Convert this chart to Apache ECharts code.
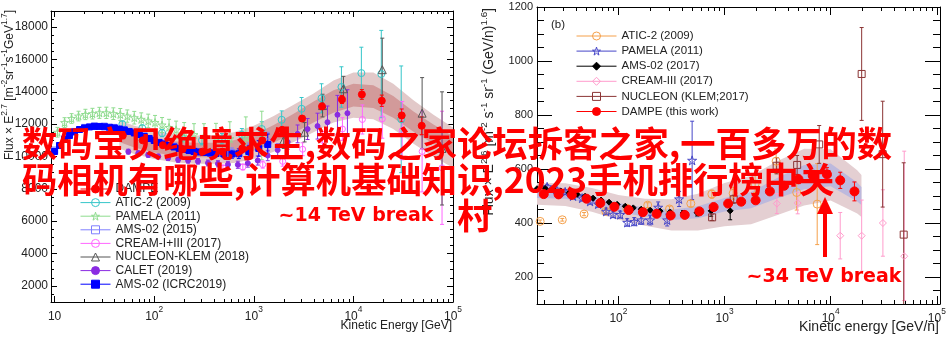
<!DOCTYPE html>
<html>
<head>
<meta charset="utf-8">
<title>DAMPE proton / helium spectra</title>
<script src="https://cdn.jsdelivr.net/npm/echarts@6.0.0/dist/echarts.min.js"></script>
<style>
  html, body { margin: 0; padding: 0; background: #fff; }
  #chart { width: 951px; height: 352px; }
</style>
</head>
<body>
<div id="chart"></div>
<script>
// ---------- (a) proton, flux x E^2.7, energy in GeV ----------
const pDampeE = [48.4, 76.7, 122, 193, 305, 484, 767, 1216, 1928, 3055, 4842, 7674, 12162, 19275, 30549, 48529];
const pDampeF = [11300, 11000, 10700, 10450, 10300, 10300, 10500, 11000, 11650, 12350, 13100, 13530, 13840, 13450, 12540, 11900];
const pDampeErr = [60, 60, 60, 70, 80, 90, 100, 120, 140, 160, 200, 250, 300, 350, 400, 550];

const pBandE = [44.7, 63.1, 100, 158, 251, 398, 631, 1000, 1585, 2512, 3981, 6310, 10000, 15849, 25119, 39811, 63096, 100000];
const pBandOuterHi = [12250, 11900, 11600, 11400, 11300, 11300, 11500, 11900, 12500, 13200, 13900, 14700, 15200, 15200, 14500, 13500, 12600, 11800];
const pBandInnerHi = [11800, 11450, 11150, 10950, 10850, 10850, 11000, 11350, 11950, 12650, 13400, 14100, 14500, 14400, 13750, 12800, 12000, 11250];
const pBandInnerLo = [10900, 10550, 10250, 10050, 9950, 9950, 10050, 10350, 10850, 11450, 12100, 12700, 13100, 13000, 12400, 11550, 10800, 10050];
const pBandOuterLo = [10500, 10150, 9850, 9650, 9550, 9550, 9600, 9850, 10300, 10900, 11500, 12100, 12400, 12300, 11700, 10800, 10000, 9300];

const pAticE = [47.9, 75.9, 120, 191, 302, 479, 759, 1202, 1905, 3020, 4786, 7586, 12023, 19055, 30200];
const pAticF = [12000, 11750, 11450, 11150, 11000, 11100, 11350, 11700, 12270, 12950, 13600, 14300, 15160, 15100, 12300];
const pAticErr = [200, 200, 220, 250, 280, 320, 380, 450, 550, 700, 900, 1250, 1600, 2700, 3300];

const pPamelaE = [10.7, 12.6, 14.8, 17.4, 20.4, 24.0, 28.2, 33.1, 38.9, 45.7, 53.7, 63.1, 74.1, 87.1, 102, 120, 141, 166, 200, 251, 316, 417, 575, 832, 1202];
const pPamelaF = [11500, 12100, 12350, 12500, 12600, 12650, 12700, 12700, 12650, 12600, 12500, 12400, 12300, 12200, 12100, 11950, 11800, 11650, 11500, 11350, 11250, 11150, 11100, 11200, 11300];
const pPamelaErr = [300, 300, 300, 300, 320, 330, 340, 350, 360, 370, 380, 390, 400, 420, 440, 460, 500, 540, 600, 680, 780, 900, 1050, 1250, 1500];

const pAms15E = [10, 12.6, 15.8, 20, 25.1, 31.6, 39.8, 50.1, 63.1, 79.4, 100, 126, 158, 200, 251, 316, 417, 603, 891, 1380];
const pAms15F = [10400, 11100, 11550, 11800, 11900, 11880, 11800, 11680, 11500, 11280, 11030, 10820, 10640, 10480, 10350, 10300, 10250, 10250, 10450, 10900];
const pAms15Err = [120, 120, 120, 120, 120, 120, 120, 120, 120, 120, 130, 140, 150, 160, 180, 200, 230, 280, 380, 600];

const pCreamE = [490, 776, 1230, 1950, 3090, 4898, 7762, 12303, 19498, 30903, 48978, 77625];
const pCreamF = [9300, 9350, 9500, 9700, 10450, 11000, 11700, 12290, 12330, 11600, 10310, 9300];
const pCreamErr = [150, 180, 220, 300, 400, 550, 700, 900, 1200, 1800, 2500, 3500];

const pNucleonE = [1995, 3236, 4898, 7943, 19498, 48978, 77625];
const pNucleonF = [11000, 11500, 13150, 14190, 15370, 12680, 10500];
const pNucleonErr = [500, 600, 700, 770, 1950, 2200, 3500];

const pCaletE = [55.0, 69.2, 87.1, 110, 138, 174, 219, 275, 347, 437, 550, 692, 871, 1096, 1380, 1738, 2188, 2754, 3467, 4365, 5495, 6918, 8710];
const pCaletF = [10300, 10200, 10100, 10000, 9900, 9800, 9750, 9700, 9600, 9550, 9500, 9490, 9590, 9750, 10060, 10400, 10900, 11400, 11700, 11880, 12120, 12580, 12680];
const pCaletErr = [150, 150, 150, 150, 150, 160, 160, 170, 180, 190, 200, 220, 250, 280, 320, 380, 450, 550, 650, 800, 1000, 1200, 1450];

const pAms19E = [10, 11.2, 12.6, 14.1, 15.8, 17.8, 20.0, 22.4, 25.1, 28.2, 31.6, 35.5, 39.8, 44.7, 50.1, 56.2, 63.1, 70.8, 79.4, 89.1, 100, 112, 126, 141, 158, 178, 200, 224, 251, 282, 316, 363, 417, 501, 603, 708, 891, 1122, 1380];
const pAms19F = [10310, 10680, 11050, 11300, 11520, 11670, 11765, 11830, 11860, 11860, 11840, 11810, 11765, 11700, 11640, 11550, 11455, 11360, 11240, 11115, 10990, 10870, 10775, 10680, 10590, 10500, 10435, 10370, 10310, 10280, 10250, 10220, 10190, 10155, 10155, 10170, 10310, 10500, 10740];
const pAms19Err = [100, 100, 100, 100, 100, 100, 100, 100, 100, 100, 100, 100, 100, 100, 110, 110, 110, 110, 120, 120, 120, 120, 130, 130, 130, 140, 140, 150, 150, 160, 170, 180, 200, 230, 260, 300, 380, 480, 650];

// ---------- (b) helium, flux x E^2.6, energy in GeV/n ----------
const hDampeE = [19.8, 27.3, 36.4, 50.1, 67.6, 91.6, 125, 170, 229, 311, 422, 579, 789, 1081, 1435, 1963, 2673, 3648, 4977, 6776, 9226, 12303, 16749];
const hDampeF = [507, 506, 504, 490, 474, 460, 448, 440, 434, 428, 430, 443, 459, 472, 479, 484, 517, 538, 562, 575, 580, 558, 517];
const hDampeErr = [3, 3, 3, 3, 3, 3, 3, 3, 4, 4, 5, 5, 6, 7, 8, 9, 11, 13, 16, 20, 25, 30, 35];

const hBandE = [17.0, 31.6, 56.2, 100, 178, 316, 562, 1000, 1778, 3162, 5623, 10000, 17783, 19500];
const hBandOuterHi = [548, 547, 530, 504, 490, 488, 508, 548, 575, 630, 675, 673, 595, 578];
const hBandInnerHi = [523, 520, 501, 474, 457, 449, 462, 493, 515, 568, 615, 620, 550, 533];
const hBandInnerLo = [493, 490, 471, 442, 423, 411, 418, 443, 455, 492, 525, 536, 480, 467];
const hBandOuterLo = [468, 463, 442, 412, 390, 372, 372, 388, 395, 430, 465, 483, 435, 422];

const hAticE = [18.3, 29.6, 47.5, 76.0, 120, 189, 303, 481, 759, 1205, 1941, 3062, 4786, 7464];
const hAticF = [406, 412, 433, 443, 455, 466, 452, 472, 507, 510, 545, 629, 513, 470];
const hAticErr = [5, 5, 6, 7, 8, 9, 10, 12, 15, 22, 32, 45, 65, 150];

const hPamelaE = [21.3, 25.9, 31.5, 37.4, 45.5, 54.1, 64.4, 76.6, 89.1, 104, 121, 141, 164, 199, 237, 288, 373, 495];
const hPamelaF = [534, 525, 515, 500, 492, 480, 470, 443, 432, 431, 402, 405, 411, 411, 458, 411, 489, 632];
const hPamelaErr = [8, 8, 9, 9, 10, 10, 11, 12, 12, 13, 14, 15, 16, 18, 20, 22, 28, 145];

const hAmsE = [17.1, 20.4, 24.3, 28.8, 34.3, 40.8, 48.5, 57.7, 68.7, 81.7, 97.2, 116, 138, 164, 199, 247, 307, 407, 552, 748, 1130];
const hAmsF = [527, 528, 524, 518, 512, 506, 499, 492, 485, 477, 469, 462, 456, 451, 447, 444, 440, 437, 438, 445, 445];
const hAmsErr = [3, 3, 3, 3, 3, 3, 3, 3, 3, 3, 4, 4, 4, 5, 5, 6, 7, 9, 12, 20, 33];

const hCreamE = [3112, 4887, 12303, 19588, 31046, 49317];
const hCreamF = [472, 474, 353, 353, 400, 277];
const hCreamErr = [37, 40, 86, 132, 123, [164, 389]];

const hNucleonE = [764, 1219, 3097, 4831, 7798, 19588, 30903, 48753];
const hNucleonF = [421, 488, 612, 615, 691, 952, 655, 357];
const hNucleonErr = [12, 15, 30, 35, 70, 172, 196, [300, 266]];

// ---------- axes ----------
const xTickPowers = [1, 2, 3, 4, 5];
const pFluxTicks = [2000, 4000, 6000, 8000, 10000, 12000, 14000, 16000, 18000];
const hFluxTicks = [200, 400, 600, 800, 1000, 1200];

const FONT = 'Liberation Sans, Arial, sans-serif';
const lg = Math.log10;

function pts(es, fs) {
  return es.map((e, i) => [lg(e), fs[i]]);
}

function bars(es, fs, errs) {
  return es.map((e, i) => {
    const er = errs[i];
    const lo = Array.isArray(er) ? er[0] : er;
    const hi = Array.isArray(er) ? er[1] : er;
    return [lg(e), fs[i], fs[i] - lo, fs[i] + hi];
  });
}

const STAR = 'path://M50,0 L61.8,35.4 L100,35.4 L69.1,57.3 L80.9,92.7 L50,70.8 L19.1,92.7 L30.9,57.3 L0,35.4 L38.2,35.4 Z';

function markerSeries(name, g, es, fs, mk) {
  return {
    name, type: 'line', xAxisIndex: g * 4, yAxisIndex: g * 4,
    data: pts(es, fs),
    symbol: mk.symbol, symbolSize: mk.size, showSymbol: true,
    lineStyle: { color: mk.color, width: 1, opacity: 0 },
    itemStyle: {
      color: mk.filled ? mk.color : 'rgba(255,255,255,0)',
      borderColor: mk.color, borderWidth: 1
    },
    z: mk.z || 5, silent: true, animation: false
  };
}

function errorSeries(g, es, fs, errs, color) {
  return {
    type: 'custom', xAxisIndex: g * 4, yAxisIndex: g * 4,
    data: bars(es, fs, errs), clip: true, silent: true, z: 4,
    encode: { x: 0, y: [1, 2, 3] },
    renderItem: (params, api) => {
      const x = api.value(0);
      const a = api.coord([x, api.value(2)]);
      const b = api.coord([x, api.value(3)]);
      const cap = 2;
      return {
        type: 'group',
        children: [
          { type: 'line', shape: { x1: a[0], y1: a[1], x2: b[0], y2: b[1] }, style: { stroke: color, lineWidth: 1 } },
          { type: 'line', shape: { x1: a[0] - cap, y1: a[1], x2: a[0] + cap, y2: a[1] }, style: { stroke: color, lineWidth: 1 } },
          { type: 'line', shape: { x1: b[0] - cap, y1: b[1], x2: b[0] + cap, y2: b[1] }, style: { stroke: color, lineWidth: 1 } }
        ]
      };
    }
  };
}

function bandSeries(g, es, lo, hi, fill, z) {
  return {
    type: 'custom', xAxisIndex: g * 4, yAxisIndex: g * 4,
    data: es.map((e, i) => [lg(e), lo[i], hi[i]]),
    clip: true, silent: true, z,
    encode: { x: 0, y: [1, 2] },
    renderItem: (params, api) => {
      if (params.dataIndexInside !== 0) return null;
      const top = [], bot = [];
      for (let i = 0; i < params.dataInsideLength; i++) {
        top.push(api.coord([api.value(0, i), api.value(2, i)]));
        bot.push(api.coord([api.value(0, i), api.value(1, i)]));
      }
      return { type: 'polygon', shape: { points: top.concat(bot.reverse()) }, style: { fill } };
    }
  };
}

function dataset(name, g, es, fs, errs, mk) {
  return [errorSeries(g, es, fs, errs, mk.bar || mk.color), markerSeries(name, g, es, fs, mk)];
}

function logMinorTicks(min, max) {
  const out = [];
  for (let d = Math.floor(min); d < Math.ceil(max); d++) {
    for (let k = 2; k <= 9; k++) {
      const v = d + lg(k);
      if (v > min && v < max) out.push(v);
    }
  }
  return out;
}

function evenTicks(min, max, step, skip) {
  const out = [];
  for (let v = Math.ceil(min / step) * step; v <= max; v += step) {
    if (v % skip !== 0) out.push(v);
  }
  return out;
}

const tick = (vals, len) => ({ show: true, inside: true, length: len, customValues: vals, lineStyle: { color: '#000', width: 1 } });

function xAxesFor(g, min, max, s) {
  const major = xTickPowers.filter(v => v >= min && v <= max);
  const minor = logMinorTicks(min, max);
  const base = {
    type: 'value', gridIndex: g, min, max, splitLine: { show: false },
    axisLine: { show: true, onZero: false, lineStyle: { color: '#000', width: 1 } }
  };
  const off = { show: false };
  return [
    {
      ...base, position: 'bottom', axisTick: tick(major, s.major),
      axisLabel: {
        customValues: major, margin: s.margin, color: '#222', fontFamily: FONT,
        formatter: v => {
          const p = Math.round(v);
          return p === 1 ? '{b|10}' : '{b|10}{s|' + p + '}';
        },
        rich: {
          b: { fontSize: s.font, fontFamily: FONT, color: '#222', lineHeight: s.font + 5, verticalAlign: 'bottom' },
          s: { fontSize: s.font * 0.7, fontFamily: FONT, color: '#222', lineHeight: s.font + 5, verticalAlign: 'top' }
        }
      }
    },
    { ...base, position: 'bottom', axisLine: off, axisTick: tick(minor, s.minor), axisLabel: off },
    { ...base, position: 'top', axisTick: tick(major, s.major), axisLabel: off },
    { ...base, position: 'top', axisLine: off, axisTick: tick(minor, s.minor), axisLabel: off }
  ];
}

function yAxesFor(g, min, max, major, minor, s) {
  const base = {
    type: 'value', gridIndex: g, min, max, splitLine: { show: false },
    axisLine: { show: true, onZero: false, lineStyle: { color: '#000', width: 1 } }
  };
  const off = { show: false };
  return [
    {
      ...base, position: 'left', axisTick: tick(major, s.major),
      axisLabel: {
        customValues: major, margin: s.margin, fontSize: s.font, color: '#222', fontFamily: FONT,
        formatter: v => String(v)
      }
    },
    { ...base, position: 'left', axisLine: off, axisTick: tick(minor, s.minor), axisLabel: off },
    { ...base, position: 'right', axisTick: tick(major, s.major), axisLabel: off },
    { ...base, position: 'right', axisLine: off, axisTick: tick(minor, s.minor), axisLabel: off }
  ];
}

const P_XMIN = 0.964, P_XMAX = 5.0;
const H_XMIN = lg(17.1), H_XMAX = 5.03;

const series = [
  // proton panel
  bandSeries(0, pBandE, pBandOuterLo, pBandOuterHi, '#e2c9c9', 1),
  bandSeries(0, pBandE, pBandInnerLo, pBandInnerHi, '#d29a9a', 2),
  ...dataset('ATIC-2 (2009)', 0, pAticE, pAticF, pAticErr, { symbol: 'circle', size: 7, color: '#35c6c9' }),
  ...dataset('PAMELA (2011)', 0, pPamelaE, pPamelaF, pPamelaErr, { symbol: STAR, size: 8, color: '#8fdc8f' }),
  ...dataset('AMS-02 (2015)', 0, pAms15E, pAms15F, pAms15Err, { symbol: 'rect', size: 6, color: '#7f7fff' }),
  ...dataset('CREAM-I+III (2017)', 0, pCreamE, pCreamF, pCreamErr, { symbol: 'circle', size: 6, color: '#ff66ff' }),
  ...dataset('NUCLEON-KLEM (2018)', 0, pNucleonE, pNucleonF, pNucleonErr, { symbol: 'triangle', size: 8, color: '#555555' }),
  ...dataset('CALET (2019)', 0, pCaletE, pCaletF, pCaletErr, { symbol: 'circle', size: 5, color: '#8a2be2', filled: true }),
  ...dataset('AMS-02 (ICRC2019)', 0, pAms19E, pAms19F, pAms19Err, { symbol: 'rect', size: 6, color: '#0000ff', filled: true }),
  ...dataset('DAMPE', 0, pDampeE, pDampeF, pDampeErr, { symbol: 'circle', size: 7, color: '#ff0000', filled: true, z: 7 }),
  // helium panel
  bandSeries(1, hBandE, hBandOuterLo, hBandOuterHi, '#e4cfd2', 1),
  bandSeries(1, hBandE, hBandInnerLo, hBandInnerHi, '#bdb9dd', 2),
  ...dataset('ATIC-2 (2009) ', 1, hAticE, hAticF, hAticErr, { symbol: 'circle', size: 8, color: '#f5a04a' }),
  ...dataset('PAMELA (2011) ', 1, hPamelaE, hPamelaF, hPamelaErr, { symbol: STAR, size: 9, color: '#4646c8' }),
  ...dataset('AMS-02 (2017)', 1, hAmsE, hAmsF, hAmsErr, { symbol: 'diamond', size: 6, color: '#000000', filled: true }),
  ...dataset('CREAM-III (2017)', 1, hCreamE, hCreamF, hCreamErr, { symbol: 'diamond', size: 7, color: '#ff9ccc' }),
  ...dataset('NUCLEON (KLEM;2017)', 1, hNucleonE, hNucleonF, hNucleonErr, { symbol: 'rect', size: 7, color: '#8b3535' }),
  ...dataset('DAMPE (this work)', 1, hDampeE, hDampeF, hDampeErr, { symbol: 'circle', size: 9, color: '#ff0000', filled: true, z: 7 })
];

const legendBase = {
  orient: 'vertical', itemHeight: 10, selectedMode: false,
  lineStyle: { opacity: 1, width: 1 }, itemStyle: { borderWidth: 1 }
};

const sup = (size) => ({ fontSize: size * 0.7, fontFamily: FONT, fill: '#222', lineHeight: size + 6, verticalAlign: 'top' });

const TITLE_FONT = 'bold 35.3px "Noto Sans CJK SC"';

const chart = echarts.init(document.getElementById('chart'));
chart.setOption({
  animation: false,
  backgroundColor: '#fff',
  grid: [
    { left: 51, top: 11, width: 402, height: 291 },
    { left: 537, top: 7, width: 403, height: 297 }
  ],
  xAxis: [
    ...xAxesFor(0, P_XMIN, P_XMAX, { major: 6, minor: 3, margin: 4, font: 12 }),
    ...xAxesFor(1, H_XMIN, H_XMAX, { major: 8, minor: 4, margin: 4, font: 12 })
  ],
  yAxis: [
    ...yAxesFor(0, 1000, 19000, pFluxTicks, evenTicks(1000, 19000, 500, 2000), { major: 6, minor: 3, margin: 3, font: 12 }),
    ...yAxesFor(1, 100, 1200, hFluxTicks, evenTicks(100, 1200, 50, 200), { major: 15, minor: 7, margin: 4, font: 11 })
  ],
  legend: [
    {
      ...legendBase, left: 75, top: 178, itemWidth: 30, itemGap: 1.6,
      textStyle: { fontSize: 12, color: '#222', fontFamily: FONT },
      data: ['DAMPE', 'ATIC-2 (2009)', 'PAMELA (2011)', 'AMS-02 (2015)', 'CREAM-I+III (2017)', 'NUCLEON-KLEM (2018)', 'CALET (2019)', 'AMS-02 (ICRC2019)']
    },
    {
      ...legendBase, left: 571, top: 25, itemWidth: 40, itemGap: 3.1,
      textStyle: { fontSize: 11.5, color: '#222', fontFamily: FONT },
      data: ['ATIC-2 (2009) ', 'PAMELA (2011) ', 'AMS-02 (2017)', 'CREAM-III (2017)', 'NUCLEON (KLEM;2017)', 'DAMPE (this work)']
    }
  ],
  series,
  graphic: [
    // axis titles
    {
      type: 'text', x: 10, y: 10, rotation: Math.PI / 2, z: 50,
      style: {
        text: 'Flux × E{s|2.7} [m{s|-2}sr{s|-1}s{s|-1}GeV{s|1.7}]',
        font: '12px ' + FONT, fill: '#222', align: 'right', verticalAlign: 'middle',
        rich: { s: sup(12) }
      }
    },
    {
      type: 'text', x: 489, y: 8, rotation: Math.PI / 2, z: 50,
      style: {
        text: 'Flux × E{s|2.6} [m{s|-2} s{s|-1} sr{s|-1} (GeV/n){s|1.6}]',
        font: '14px ' + FONT, fill: '#222', align: 'right', verticalAlign: 'middle',
        rich: { s: sup(14) }
      }
    },
    { type: 'text', x: 452, y: 326, z: 50, style: { text: 'Kinetic Energy [GeV]', font: '12px ' + FONT, fill: '#222', align: 'right', verticalAlign: 'middle' } },
    { type: 'text', x: 939, y: 327, z: 50, style: { text: 'Kinetic energy [GeV/n]', font: '14px ' + FONT, fill: '#222', align: 'right', verticalAlign: 'middle' } },
    { type: 'text', x: 551, y: 25, z: 50, style: { text: '(b)', font: '11.5px ' + FONT, fill: '#222', align: 'left', verticalAlign: 'middle' } },
    // annotations
    { type: 'text', x: 356, y: 216, z: 60, style: { text: '~14 TeV break', font: 'bold 19px DejaVu Sans', fill: '#ff0000', align: 'center', verticalAlign: 'middle' } },
    { type: 'text', x: 824, y: 277, z: 60, style: { text: '~34 TeV break', font: 'bold 19px DejaVu Sans', fill: '#ff0000', align: 'center', verticalAlign: 'middle' } },
    { type: 'line', z: 60, shape: { x1: 825, y1: 257, x2: 825, y2: 210 }, style: { stroke: '#ff0000', lineWidth: 4 } },
    { type: 'polygon', z: 60, shape: { points: [[825, 197], [817, 214], [833, 214]] }, style: { fill: '#ff0000' } },
    // overlay title
    { type: 'text', x: 22, y: 144, z: 100, style: { text: '数码宝贝绝境求生,数码之家论坛拆客之家,一百多万的数', font: TITLE_FONT, fill: '#ff0000', align: 'left', verticalAlign: 'middle' } },
    { type: 'text', x: 22, y: 180, z: 100, style: { text: '码相机有哪些,计算机基础知识,2023手机排行榜中关', font: TITLE_FONT, fill: '#ff0000', align: 'left', verticalAlign: 'middle' } },
    { type: 'text', x: 457, y: 216, z: 100, style: { text: '村', font: TITLE_FONT, fill: '#ff0000', align: 'left', verticalAlign: 'middle' } }
  ]
});
</script>
</body>
</html>
